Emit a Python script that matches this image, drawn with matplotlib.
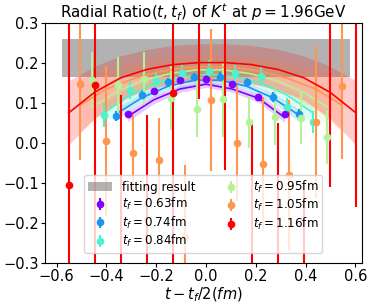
import matplotlib
matplotlib.use('Agg')
import matplotlib.pyplot as plt
import numpy as np

a = 0.105  # lattice spacing (fm)
tf_list = [0.63, 0.74, 0.84, 0.95, 1.05, 1.16]
nt_list = [6, 7, 8, 9, 10, 11]

# ratio data points
ratio_063 = [0.0735, 0.13, 0.1585, 0.16, 0.1475, 0.116, 0.0735]
err_063 = [0.006, 0.006, 0.005, 0.005, 0.005, 0.006, 0.006]
ratio_074 = [0.0675, 0.121, 0.1525, 0.165, 0.166, 0.1525, 0.115, 0.0735]
err_074 = [0.012, 0.012, 0.011, 0.011, 0.011, 0.011, 0.012, 0.012]
ratio_084 = [0.069, 0.132, 0.155, 0.175, 0.181, 0.174, 0.168, 0.091, 0.053]
err_084 = [0.03, 0.022, 0.022, 0.025, 0.027, 0.02, 0.023, 0.022, 0.027]
ratio_095 = [0.157, 0.144, 0.161, 0.1135, 0.086, 0.109, 0.053, 0.066, 0.0635, 0.015]
err_095 = [0.07, 0.071, 0.067, 0.08, 0.071, 0.094, 0.065, 0.07, 0.065, 0.067]
ratio_105 = [0.147, 0.005, -0.024, -0.0415, -0.235, 0.107, 0.0, -0.052, -0.081, 0.0525, 0.142]
err_105 = [0.189, 0.187, 0.094, 0.103, 0.18, 0.177, 0.144, 0.168, 0.188, 0.19, 0.181]
ratio_116 = [-0.104, 0.144, -0.35, -0.35, 0.125, 0.35, 0.35, -0.35, -0.35, -0.35, 0.35, 0.35]
err_116 = [0.45, 0.47, 0.47, 0.42, 0.5, 0.24, 0.417, 0.4, 0.4, 0.25, 0.46, 0.51]

# fitted curves and their bands
fit_063 = [0.066, 0.108, 0.135, 0.147, 0.135, 0.112, 0.064]
fiterr_063 = [0.012, 0.01, 0.008, 0.008, 0.008, 0.01, 0.012]
fit_074 = [0.072, 0.113, 0.142, 0.157, 0.157, 0.142, 0.113, 0.070]
fiterr_074 = [0.015, 0.012, 0.01, 0.01, 0.01, 0.01, 0.012, 0.015]
fit_084 = [0.075, 0.12, 0.15, 0.166, 0.172, 0.166, 0.15, 0.12, 0.075]
fiterr_084 = [0.025, 0.02, 0.015, 0.013, 0.013, 0.013, 0.015, 0.02, 0.025]
fit_095 = [0.09, 0.13, 0.157, 0.174, 0.183, 0.183, 0.174, 0.157, 0.13, 0.09]
fiterr_095 = [0.045, 0.035, 0.028, 0.022, 0.02, 0.02, 0.022, 0.028, 0.035, 0.045]
fit_105 = [0.095, 0.135, 0.16, 0.178, 0.188, 0.191, 0.188, 0.178, 0.16, 0.135, 0.095]
fiterr_105 = [0.065, 0.05, 0.04, 0.035, 0.032, 0.032, 0.032, 0.035, 0.04, 0.05, 0.065]
fit_116 = [0.075, 0.127, 0.163, 0.184, 0.196, 0.201, 0.201, 0.196, 0.184, 0.163, 0.127, 0.075]
fiterr_116 = [0.08, 0.065, 0.055, 0.05, 0.048, 0.047, 0.047, 0.048, 0.05, 0.055, 0.065, 0.08]

# final fit result
fit_result = 0.2125
fit_result_err = 0.0475

ratio_list = [ratio_063, ratio_074, ratio_084, ratio_095, ratio_105, ratio_116]
err_list = [err_063, err_074, err_084, err_095, err_105, err_116]
fit_list = [fit_063, fit_074, fit_084, fit_095, fit_105, fit_116]
fiterr_list = [fiterr_063, fiterr_074, fiterr_084, fiterr_095, fiterr_105, fiterr_116]

colors = plt.cm.rainbow(np.linspace(0, 1, len(tf_list)))

fig = plt.figure(figsize=(3.73, 3.05), dpi=100)
ax = fig.add_axes([0.1206, 0.1377, 0.8491, 0.7869])

tmax = nt_list[-1] * a / 2
band = ax.fill_between([-tmax, tmax], fit_result - fit_result_err, fit_result + fit_result_err,
                       color='grey', alpha=0.6, lw=0, label='fitting result')

handles = [band]
for i in range(len(tf_list)):
    nt = nt_list[i]
    x = (np.arange(nt + 1) - nt / 2) * a + 0.005 * i
    fit = np.array(fit_list[i])
    fe = np.array(fiterr_list[i])
    ax.fill_between(x, fit - fe, fit + fe, color=colors[i], alpha=0.2, lw=0)
    ax.plot(x, fit, color=colors[i], lw=1.2)
    h = ax.errorbar(x, ratio_list[i], yerr=err_list[i], fmt='o', color=colors[i],
                    ms=4.5, elinewidth=1.5, label=r'$t_f=%.2f$fm' % tf_list[i])
    handles.append(h)

ax.set_xlim(-0.647, 0.625)
ax.set_ylim(-0.3, 0.3)
ax.set_xticks([-0.6, -0.4, -0.2, 0.0, 0.2, 0.4, 0.6])
ax.set_yticks([-0.3, -0.2, -0.1, 0.0, 0.1, 0.2, 0.3])
ax.tick_params(labelsize=10.5, length=3, pad=1.5)
ax.set_title(r'Radial Ratio$(t,t_f)$ of $K^t$ at $p=1.96$GeV', fontsize=10.9, pad=3)
ax.set_xlabel(r'$t-t_f/2(fm)$', fontsize=10.5, labelpad=1)
ax.legend(handles=handles, loc='lower center', ncol=2, fontsize=8.6,
          handletextpad=0.8, columnspacing=2.0, borderaxespad=0.8,
          labelspacing=0.2, borderpad=0.35)

plt.savefig('out.png', dpi=100)
